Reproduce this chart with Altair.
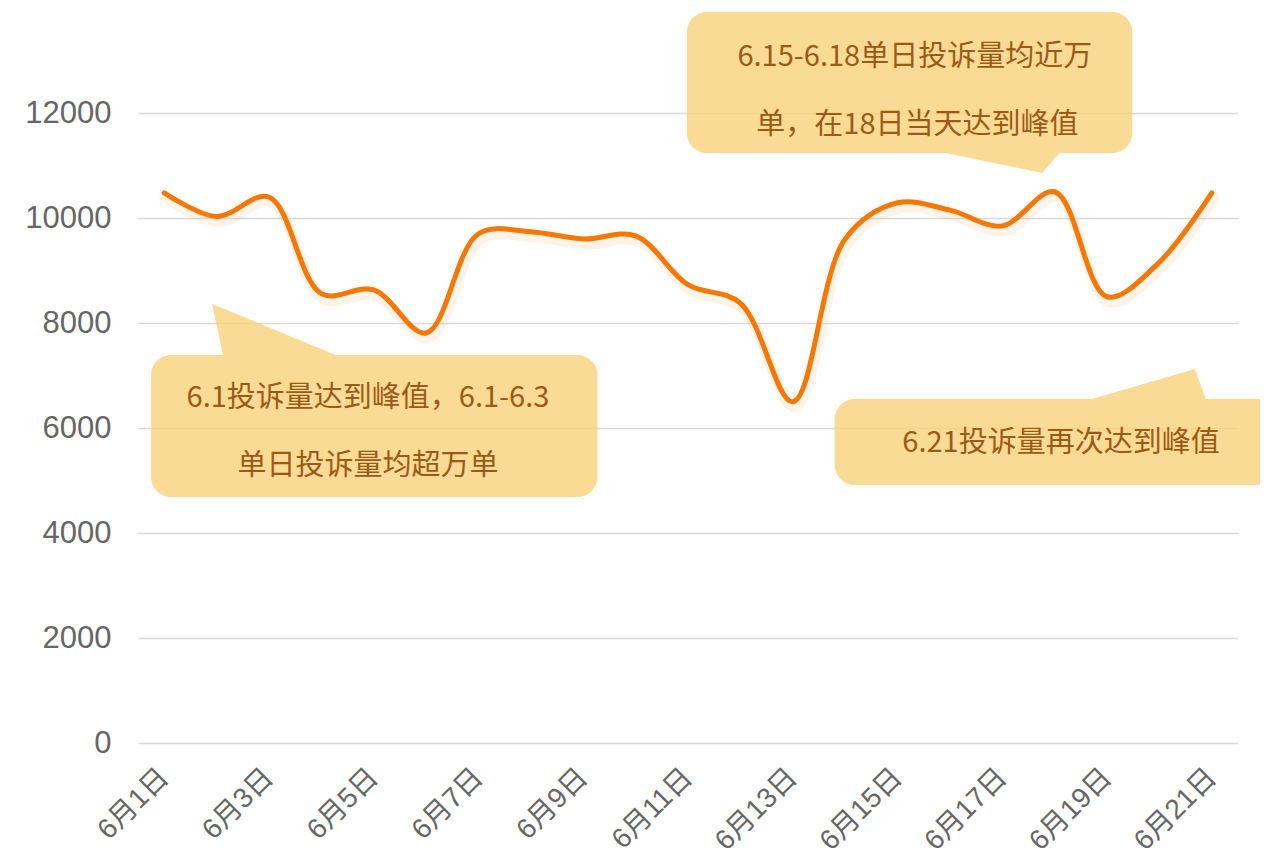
import altair as alt
import pandas as pd

# ---- data ----
days = list(range(1, 22))
complaints = [10480, 10030, 10400, 8560, 8630, 7810, 9700, 9740, 9600, 9660,
              8730, 8380, 6500, 9600, 10290, 10150, 9850, 10500, 8500, 9160, 10480]
tick_days = [1, 3, 5, 7, 9, 11, 13, 15, 17, 19, 21]
y_ticks = [0, 2000, 4000, 6000, 8000, 10000, 12000]

# annotation texts
note_texts = ["6.1投诉量达到峰值，6.1-6.3", "单日投诉量均超万单",
              "6.15-6.18单日投诉量均近万", "单，在18日当天达到峰值",
              "6.21投诉量再次达到峰值"]
note_x = [4.89, 4.89, 15.33, 15.38, 18.12]
note_y = [6570, 5280, 13070, 11770, 5710]

# callout boxes (data coordinates)
box_x1 = [0.75, 10.98, 13.80]
box_x2 = [9.27, 19.48, 22.60]
box_y1 = [4686, 11238, 4914]
box_y2 = [7390, 13924, 6552]

# callout pointers (area outline points)
ptr_id = ["a", "a", "a", "b", "b", "b", "c", "c", "c"]
ptr_x = [1.914, 2.124, 4.276, 15.93, 17.76, 18.09, 18.714, 20.676, 20.886]
ptr_top = [8362, 8276, 7390, 11238, 11238, 11238, 6552, 7124, 6552]
ptr_bot = [8362, 7390, 7390, 11238, 10857, 11238, 6552, 6552, 6552]

line_df = pd.DataFrame({"day": days, "value": complaints})
note_df = pd.DataFrame({"text": note_texts, "x": note_x, "y": note_y})
box_df = pd.DataFrame({"x1": box_x1, "x2": box_x2, "y1": box_y1, "y2": box_y2})
ptr_df = pd.DataFrame({"id": ptr_id, "x": ptr_x, "top": ptr_top, "bot": ptr_bot})

FILL = "#F8D27A"
TEXT = "#9C5A17"
AXIS_FONT = "Liberation Sans, Noto Sans CJK SC"
NOTE_FONT = "Noto Sans CJK SC"

x_scale = alt.Scale(domain=[0.5, 21.5], nice=False, zero=False)
y_scale = alt.Scale(domain=[0, 14000], nice=False)

x_axis = alt.Axis(values=tick_days, labelExpr="'6月' + datum.value + '日'",
                  labelAngle=-45, labelAlign="right", labelBaseline="middle",
                  labelFontSize=28, labelColor="#666666", labelFont=AXIS_FONT,
                  labelPadding=30, ticks=False, domain=False, grid=False, title=None)
y_axis = alt.Axis(values=y_ticks, format="d", labelFontSize=31, labelColor="#666666",
                  labelFont=AXIS_FONT, labelPadding=27,
                  ticks=False, domain=False,
                  grid=True, gridColor="#D9D9D9", gridWidth=1.5, title=None)

base_line = alt.Chart(line_df)

grid_layer = base_line.mark_line(opacity=0).encode(
    x=alt.X("day:Q", scale=x_scale, axis=x_axis),
    y=alt.Y("value:Q", scale=y_scale, axis=y_axis),
)

shadow = base_line.mark_line(
    interpolate="catmull-rom", color="#F5A765", strokeWidth=11, opacity=0.14,
    xOffset=2, yOffset=5, strokeCap="round"
).encode(x=alt.X("day:Q", scale=x_scale), y=alt.Y("value:Q", scale=y_scale))

line = base_line.mark_line(
    interpolate="catmull-rom", color="#F77800", strokeWidth=5, strokeCap="round"
).encode(x=alt.X("day:Q", scale=x_scale), y=alt.Y("value:Q", scale=y_scale))

boxes = alt.Chart(box_df).mark_rect(
    color=FILL, opacity=0.8, cornerRadius=20
).encode(
    x=alt.X("x1:Q", scale=x_scale), x2="x2:Q",
    y=alt.Y("y1:Q", scale=y_scale), y2="y2:Q",
)

pointers = alt.Chart(ptr_df).mark_area(color=FILL, opacity=0.8).encode(
    x=alt.X("x:Q", scale=x_scale),
    y=alt.Y("top:Q", scale=y_scale), y2="bot:Q",
    detail="id:N",
)

notes = alt.Chart(note_df).mark_text(
    fontSize=29, color=TEXT, font=NOTE_FONT,
    align="center", baseline="middle"
).encode(
    x=alt.X("x:Q", scale=x_scale), y=alt.Y("y:Q", scale=y_scale), text="text:N"
)

chart = alt.layer(grid_layer, shadow, line, boxes, pointers, notes).properties(
    width=1100, height=735,
    autosize=alt.AutoSizeParams(type="none"),
    padding={"left": 130, "top": 0, "right": 22, "bottom": 120},
    background="white",
).configure_view(stroke=None)

chart.save("out.html", embed_options={"renderer": "svg", "actions": False})
